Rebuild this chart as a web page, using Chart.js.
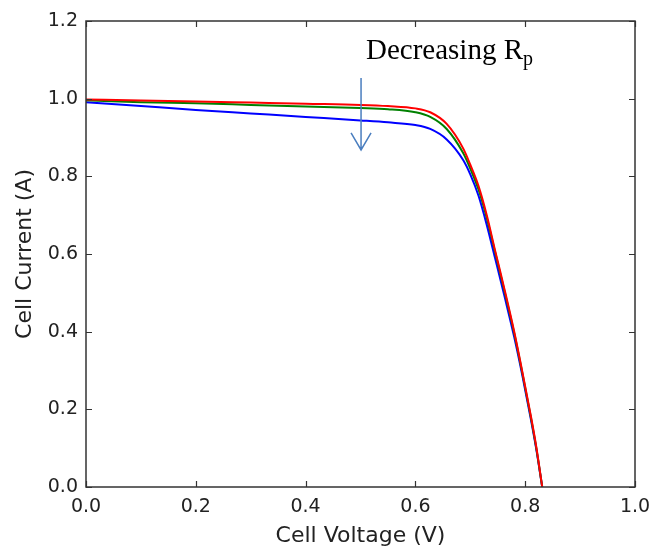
<!DOCTYPE html>
<html>
<head>
<meta charset="utf-8">
<script src="https://cdn.jsdelivr.net/npm/chart.js@4/dist/chart.umd.min.js"></script>
<style>
  html, body { margin: 0; padding: 0; background: #fff; }
  #wrap { width: 651px; height: 551px; }
</style>
</head>
<body>
<div id="wrap"><canvas id="c" width="651" height="551"></canvas></div>
<script>
// Values
const voltage = [0, 0.1, 0.2, 0.3, 0.4, 0.5, 0.55, 0.6, 0.627, 0.657, 0.687, 0.70, 0.715, 0.73, 0.745, 0.763, 0.78, 0.795, 0.81, 0.82, 0.831];
const currentRed   = [0.998, 0.995, 0.993, 0.990, 0.987, 0.984, 0.981, 0.975, 0.965, 0.935, 0.872, 0.830, 0.775, 0.700, 0.610, 0.505, 0.400, 0.295, 0.185, 0.105, 0.0];
const currentGreen = [0.996, 0.991, 0.988, 0.984, 0.980, 0.976, 0.973, 0.965, 0.953, 0.922, 0.860, 0.820, 0.766, 0.693, 0.606, 0.500, 0.396, 0.292, 0.182, 0.102, 0.0];
const currentBlue  = [0.991, 0.981, 0.971, 0.962, 0.953, 0.944, 0.939, 0.932, 0.922, 0.895, 0.842, 0.805, 0.750, 0.675, 0.590, 0.487, 0.386, 0.286, 0.177, 0.099, 0.0];
const xTicks = [0.0, 0.2, 0.4, 0.6, 0.8, 1.0];
const yTicks = [0.0, 0.2, 0.4, 0.6, 0.8, 1.0, 1.2];
const annotationText = 'Decreasing R';
const annotationSub = 'p';
const arrowX = 0.501;
const arrowFrom = 1.053;
const arrowTo = 0.868;
const textPos = { x: 0.510, y: 1.103 };

const toPts = (ys) => voltage.map((v, i) => ({ x: v, y: ys[i] }));

const frameAndTicks = {
  id: 'frameAndTicks',
  afterDatasetsDraw(chart) {
    const { ctx, chartArea: a, scales: { x, y } } = chart;
    ctx.save();
    ctx.strokeStyle = '#333333';
    ctx.lineWidth = 1.5;
    ctx.strokeRect(a.left, a.top, a.right - a.left, a.bottom - a.top);
    ctx.lineWidth = 1.2;
    const tl = 6;
    ctx.beginPath();
    xTicks.forEach(t => {
      const px = Math.round(x.getPixelForValue(t)) + 0.5;
      ctx.moveTo(px, a.bottom); ctx.lineTo(px, a.bottom - tl);
      ctx.moveTo(px, a.top); ctx.lineTo(px, a.top + tl);
    });
    yTicks.forEach(t => {
      const py = Math.round(y.getPixelForValue(t)) + 0.5;
      ctx.moveTo(a.left, py); ctx.lineTo(a.left + tl, py);
      ctx.moveTo(a.right, py); ctx.lineTo(a.right - tl, py);
    });
    ctx.stroke();

    // annotation arrow
    const ax = x.getPixelForValue(arrowX);
    const ay0 = y.getPixelForValue(arrowFrom);
    const ay1 = y.getPixelForValue(arrowTo);
    ctx.strokeStyle = '#4a7ebf';
    ctx.lineWidth = 1.5;
    ctx.beginPath();
    ctx.moveTo(ax, ay0); ctx.lineTo(ax, ay1);
    ctx.moveTo(ax - 10, ay1 - 17); ctx.lineTo(ax, ay1); ctx.lineTo(ax + 10, ay1 - 17);
    ctx.stroke();

    // annotation text
    const tx = x.getPixelForValue(textPos.x);
    const ty = y.getPixelForValue(textPos.y);
    ctx.fillStyle = '#000';
    ctx.textBaseline = 'alphabetic';
    ctx.textAlign = 'left';
    ctx.font = '29px "Liberation Serif", "Times New Roman", serif';
    ctx.fillText(annotationText, tx, ty);
    const w = ctx.measureText(annotationText).width;
    ctx.font = '20px "Liberation Serif", "Times New Roman", serif';
    ctx.fillText(annotationSub, tx + w, ty + 6);
    ctx.restore();
  }
};

new Chart(document.getElementById('c'), {
  type: 'line',
  data: {
    datasets: [
      { data: toPts(currentRed),   borderColor: '#ff0000', order: 0 },
      { data: toPts(currentGreen), borderColor: '#008000', order: 1 },
      { data: toPts(currentBlue),  borderColor: '#0000ff', order: 2 }
    ].map(d => Object.assign(d, {
      borderWidth: 2, pointRadius: 0, fill: false,
      cubicInterpolationMode: 'monotone'
    }))
  },
  options: {
    responsive: false,
    animation: false,
    devicePixelRatio: 1,
    layout: { padding: { left: 0, top: 21, right: 16, bottom: 0 } },
    plugins: { legend: { display: false }, tooltip: { enabled: false } },
    scales: {
      x: {
        type: 'linear', min: 0, max: 1,
        afterBuildTicks: s => { s.ticks = xTicks.map(v => ({ value: v })); },
        afterFit: s => { s.height = 64; s.paddingLeft = 0; s.paddingRight = 0; },
        grid: { display: false, drawTicks: false },
        border: { display: false },
        ticks: {
          padding: 9, color: '#222',
          font: { family: '"DejaVu Sans"', size: 19 },
          callback: v => v.toFixed(1)
        },
        title: {
          display: true, text: 'Cell Voltage (V)', color: '#222',
          font: { family: '"DejaVu Sans"', size: 22 },
          padding: { top: 0, bottom: 2 }
        }
      },
      y: {
        type: 'linear', min: 0, max: 1.2,
        afterBuildTicks: s => { s.ticks = yTicks.map(v => ({ value: v })); },
        afterFit: s => { s.width = 86; s.paddingTop = 0; s.paddingBottom = 0; },
        grid: { display: false, drawTicks: false },
        border: { display: false },
        ticks: {
          padding: 8, color: '#222',
          font: { family: '"DejaVu Sans"', size: 19 },
          callback: v => v.toFixed(1)
        },
        title: {
          display: true, text: 'Cell Current (A)', color: '#222',
          font: { family: '"DejaVu Sans"', size: 22 },
          padding: { top: 12, bottom: 0 }
        }
      }
    }
  },
  plugins: [frameAndTicks]
});
</script>
</body>
</html>
